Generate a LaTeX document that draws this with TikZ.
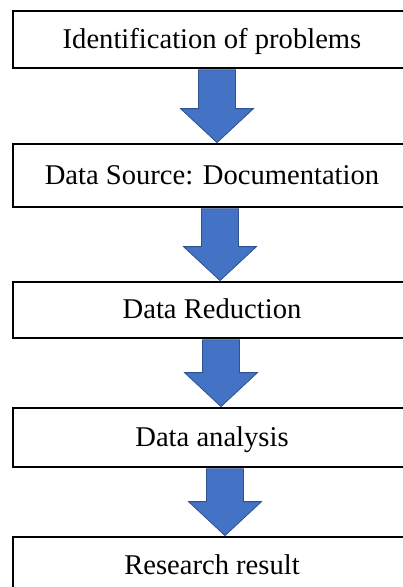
\documentclass[tikz,border=0pt]{standalone}
\usepackage{fontspec}
\setmainfont{Liberation Serif}
\usetikzlibrary{calc}
\definecolor{arrowfill}{HTML}{4472C4}
\definecolor{arrowedge}{HTML}{2F528F}
\tikzset{
  stepbox/.style={draw=black, line width=1.8pt, fill=white, minimum width=398pt,
    inner sep=0pt, text height=20pt, text depth=3pt,
    font=\fontsize{28.6pt}{32pt}\selectfont},
  blockarrow/.style={draw=arrowedge, fill=arrowfill, line width=0.8pt, line join=miter}
}
\newcommand{\blockarrow}[3]{%
  \draw[blockarrow] let \p1=(#1.south), \p2=(#2.north) in
    ({#3pt-18.5pt},{\y1-0.9pt}) -- ({#3pt+18.5pt},{\y1-0.9pt}) --
    ({#3pt+18.5pt},{\y2+34.5pt}) -- ({#3pt+36.5pt},{\y2+34.5pt}) --
    ({#3pt},{\y2+0.5pt}) -- ({#3pt-36.5pt},{\y2+34.5pt}) --
    ({#3pt-18.5pt},{\y2+34.5pt}) -- cycle;}
\begin{document}
\begin{tikzpicture}[x=1pt,y=-1pt]
\useasboundingbox (0,0) rectangle (403,587);
\clip (0,0) rectangle (403,587);
\node[stepbox, minimum height=57pt] (b1) at (212,39.5) {Identification of problems};
\node[stepbox, minimum height=63pt] (b2) at (212,175.5) {Data Source: Documentation};
\node[stepbox, minimum height=56pt] (b3) at (212,310) {Data Reduction};
\node[stepbox, minimum height=59pt] (b4) at (212,437.5) {Data analysis};
\node[stepbox, minimum height=58pt] (b5) at (212,566) {Research result};
\blockarrow{b1}{b2}{217}
\blockarrow{b2}{b3}{220}
\blockarrow{b3}{b4}{221}
\blockarrow{b4}{b5}{225}
\end{tikzpicture}
\end{document}
